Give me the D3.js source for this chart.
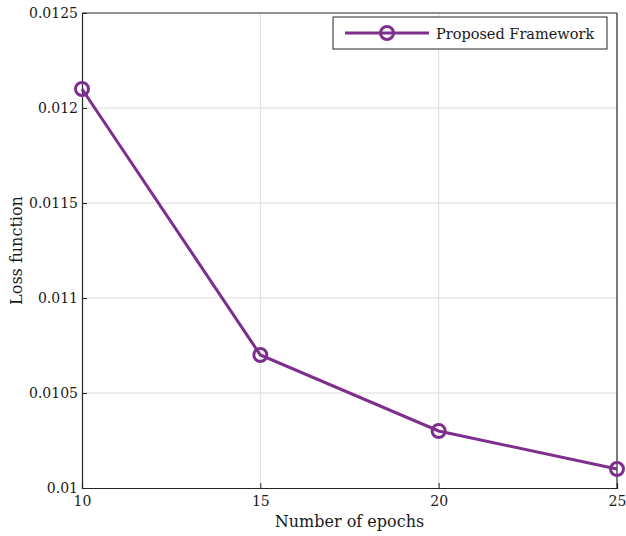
<!DOCTYPE html>
<html>
<head>
<meta charset="utf-8">
<script src="https://cdn.jsdelivr.net/npm/d3@7"></script>
<style>
  body { margin: 0; background: #fff; }
</style>
</head>
<body>
<div id="chart"></div>
<script>
// data
const epochs = [10, 15, 20, 25];
const loss = [0.0121, 0.0107, 0.0103, 0.0101];
const xTicks = [10, 15, 20, 25];
const yTicks = [0.01, 0.0105, 0.011, 0.0115, 0.012, 0.0125];
const seriesName = "Proposed Framework";

const width = 626, height = 536;
const margin = { top: 13, right: 9, bottom: 48, left: 82 };
const innerWidth = width - margin.left - margin.right;
const innerHeight = height - margin.top - margin.bottom;
const purple = "#7E2F8E";
const font = "'DejaVu Serif', 'Liberation Serif', serif";

const svg = d3.select("#chart").append("svg")
    .attr("width", width)
    .attr("height", height)
    .style("font-family", font);

const g = svg.append("g")
    .attr("transform", `translate(${margin.left},${margin.top})`);

const x = d3.scaleLinear().domain([10, 25]).range([0, innerWidth]);
const y = d3.scaleLinear().domain([0.01, 0.0125]).range([innerHeight, 0]);

// grid
g.append("g").selectAll("line")
    .data(xTicks.slice(1, -1))
    .enter().append("line")
    .attr("x1", d => x(d)).attr("x2", d => x(d))
    .attr("y1", 0).attr("y2", innerHeight)
    .attr("stroke", "#dcdcdc").attr("stroke-width", 1);

g.append("g").selectAll("line")
    .data(yTicks.slice(1, -1))
    .enter().append("line")
    .attr("x1", 0).attr("x2", innerWidth)
    .attr("y1", d => y(d)).attr("y2", d => y(d))
    .attr("stroke", "#dcdcdc").attr("stroke-width", 1);

// axes (ticks pointing inward)
const xAxis = g.append("g")
    .attr("transform", `translate(0,${innerHeight})`)
    .call(d3.axisBottom(x).tickValues(xTicks).tickSize(-5).tickPadding(8).tickFormat(d3.format("d")));
const yAxis = g.append("g")
    .call(d3.axisLeft(y).tickValues(yTicks).tickSize(-5).tickPadding(4).tickFormat(d => String(+d.toFixed(4))));

[xAxis, yAxis].forEach(a => {
    a.attr("font-family", null);
    a.select(".domain").attr("stroke", "#262626").attr("stroke-width", 1.2);
    a.selectAll(".tick line").attr("stroke", "#262626");
    a.selectAll(".tick text")
        .style("font-family", font)
        .style("font-size", "14px")
        .attr("fill", "#1a1a1a");
});

// top and right box lines
g.append("line").attr("x1", 0).attr("x2", innerWidth).attr("y1", 0).attr("y2", 0)
    .attr("stroke", "#262626").attr("stroke-width", 1.2);
g.append("line").attr("x1", innerWidth).attr("x2", innerWidth).attr("y1", 0).attr("y2", innerHeight)
    .attr("stroke", "#262626").attr("stroke-width", 1.2);

// line
const data = epochs.map((e, i) => ({ e, v: loss[i] }));
const line = d3.line().x(d => x(d.e)).y(d => y(d.v));

g.append("path")
    .datum(data)
    .attr("fill", "none")
    .attr("stroke", purple)
    .attr("stroke-width", 3)
    .attr("d", line);

g.append("g").selectAll("circle")
    .data(data)
    .enter().append("circle")
    .attr("cx", d => x(d.e))
    .attr("cy", d => y(d.v))
    .attr("r", 6.5)
    .attr("fill", "none")
    .attr("stroke", purple)
    .attr("stroke-width", 3);

// axis titles
svg.append("text")
    .attr("text-anchor", "middle")
    .attr("x", margin.left + innerWidth / 2)
    .attr("y", 527)
    .style("font-size", "16px")
    .attr("fill", "#1a1a1a")
    .text("Number of epochs");

svg.append("text")
    .attr("text-anchor", "middle")
    .attr("transform", "rotate(-90)")
    .attr("x", -(margin.top + innerHeight / 2))
    .attr("y", 22)
    .style("font-size", "16px")
    .attr("fill", "#1a1a1a")
    .text("Loss function");

// legend
const legend = svg.append("g").attr("transform", "translate(333,17)");
legend.append("rect")
    .attr("width", 274).attr("height", 32)
    .attr("fill", "#fff").attr("stroke", "#262626").attr("stroke-width", 1);
legend.append("line")
    .attr("x1", 12).attr("x2", 96).attr("y1", 16).attr("y2", 16)
    .attr("stroke", purple).attr("stroke-width", 3);
legend.append("circle")
    .attr("cx", 54).attr("cy", 16).attr("r", 6.5)
    .attr("fill", "none").attr("stroke", purple).attr("stroke-width", 3);
legend.append("text")
    .attr("x", 103).attr("y", 21.5)
    .style("font-size", "14.5px")
    .attr("fill", "#1a1a1a")
    .text(seriesName);
</script>
</body>
</html>
